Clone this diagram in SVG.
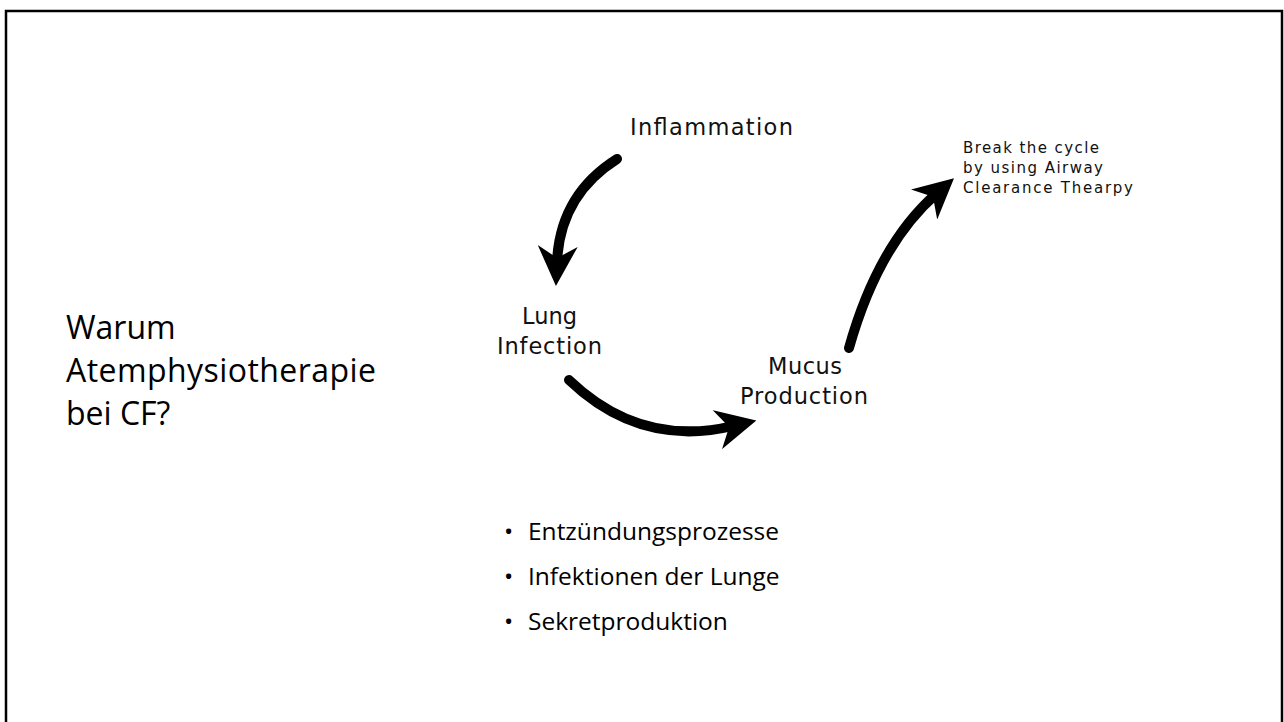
<svg xmlns="http://www.w3.org/2000/svg" width="1284" height="722" viewBox="0 0 1284 722">
<style>
.lbl{font-family:"DejaVu Sans","Noto Sans",sans-serif;font-size:22.5px;fill:#111;}
.note{font-family:"DejaVu Sans","Noto Sans",sans-serif;font-size:15px;fill:#111;}
.title{font-family:"Open Sans","Noto Sans",sans-serif;font-size:32px;fill:#000;}
.bul{font-family:"Open Sans","Noto Sans",sans-serif;font-size:24.5px;fill:#000;}
.arr{fill:none;stroke:#000;stroke-width:10;stroke-linecap:round;}
</style>
<defs>
<marker id="ah" viewBox="0 0 10 10" refX="4" refY="5" markerWidth="4" markerHeight="4" markerUnits="strokeWidth" orient="auto">
<path d="M0,0 L10,5 L0,10 L3,5 Z" fill="#000"/>
</marker>
</defs>
<rect x="6" y="11" width="1276" height="720" fill="#fff" stroke="#000" stroke-width="2.5"/>
<g id="title">
<text class="title" x="66" y="339">Warum</text>
<text class="title" x="66" y="382" textLength="310">Atemphysiotherapie</text>
<text class="title" x="66" y="425">bei CF?</text>
</g>
<g id="node-inflammation"><text class="lbl" x="630" y="135" textLength="163">Inflammation</text></g>
<g id="node-lung"><text class="lbl" x="522" y="324" textLength="55">Lung</text><text class="lbl" x="497" y="354" textLength="105">Infection</text></g>
<g id="node-mucus"><text class="lbl" x="768" y="374" textLength="74">Mucus</text><text class="lbl" x="740" y="404" textLength="128">Production</text></g>
<g id="node-break"><text class="note" x="963" y="153" textLength="136">Break the cycle</text><text class="note" x="963" y="173" textLength="140">by using Airway</text><text class="note" x="963" y="193" textLength="170">Clearance Thearpy</text></g>
<g id="connectors">
<path class="arr" d="M617,159 Q560,195 557,262" marker-end="url(#ah)"/>
<path class="arr" d="M569,380 Q640,448 733,426" marker-end="url(#ah)"/>
<path class="arr" d="M849,348 Q878,245 936,194" marker-end="url(#ah)"/>
</g>
<g id="bullets">
<text class="bul" x="504" y="540">•</text><text class="bul" x="528" y="540">Entzündungsprozesse</text>
<text class="bul" x="504" y="585">•</text><text class="bul" x="528" y="585">Infektionen der Lunge</text>
<text class="bul" x="504" y="630">•</text><text class="bul" x="528" y="630">Sekretproduktion</text>
</g>
</svg>
